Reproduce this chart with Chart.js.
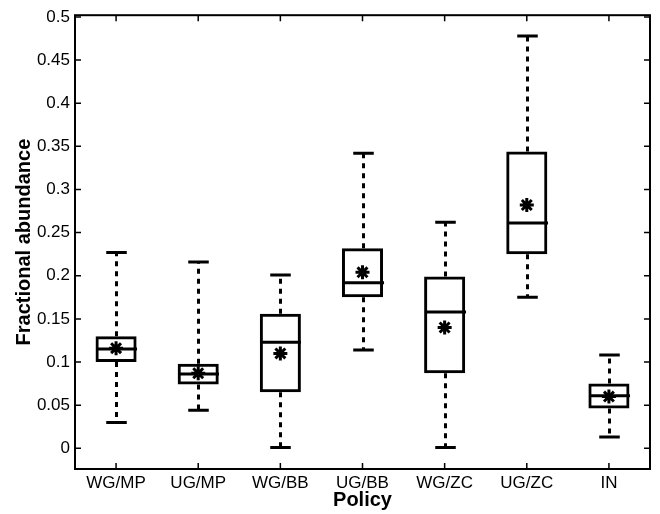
<!DOCTYPE html>
<html>
<head>
<meta charset="utf-8">
<script src="https://cdn.jsdelivr.net/npm/chart.js@4.4.1/dist/chart.umd.min.js"></script>
<style>
  html, body { margin: 0; padding: 0; background: #fff; }
  #wrap { width: 660px; height: 514px; }
</style>
</head>
<body>
<div id="wrap"><canvas id="chart"></canvas></div>
<script>
// Box plot of fractional abundance per policy
const policies = ['WG/MP', 'UG/MP', 'WG/BB', 'UG/BB', 'WG/ZC', 'UG/ZC', 'IN'];
const whiskerLow = [0.030, 0.044, 0.001, 0.114, 0.001, 0.175, 0.013];
const quartile1 = [0.100, 0.074, 0.065, 0.175, 0.087, 0.225, 0.046];
const medians = [0.115, 0.086, 0.123, 0.192, 0.158, 0.261, 0.061];
const quartile3 = [0.130, 0.098, 0.156, 0.232, 0.199, 0.344, 0.075];
const whiskerHigh = [0.227, 0.216, 0.201, 0.342, 0.262, 0.478, 0.108];
const means = [0.116, 0.087, 0.110, 0.204, 0.140, 0.282, 0.060];
const yTicks = [0, 0.05, 0.1, 0.15, 0.2, 0.25, 0.3, 0.35, 0.4, 0.45, 0.5];

const FONT = '"Liberation Sans", Arial, Helvetica, sans-serif';

// whiskers, caps, medians, plus the boxed axes with inward ticks
const boxExtras = {
  id: 'boxExtras',
  afterDatasetsDraw(chart) {
    const { ctx, chartArea: area, scales: { x, y } } = chart;
    const step = x.getPixelForValue(1) - x.getPixelForValue(0);
    const capHalf = step * 0.125;
    const boxHalf = step * 0.25;

    ctx.save();
    ctx.strokeStyle = '#000';
    ctx.lineCap = 'butt';

    policies.forEach((p, i) => {
      const cx = Math.round(x.getPixelForValue(i)) + 0.5;

      // dotted whiskers
      ctx.lineWidth = 3;
      ctx.setLineDash([5, 5]);
      ctx.beginPath();
      ctx.moveTo(cx, y.getPixelForValue(quartile3[i]));
      ctx.lineTo(cx, y.getPixelForValue(whiskerHigh[i]));
      ctx.moveTo(cx, y.getPixelForValue(quartile1[i]));
      ctx.lineTo(cx, y.getPixelForValue(whiskerLow[i]));
      ctx.stroke();
      ctx.setLineDash([]);

      // caps
      ctx.beginPath();
      [whiskerHigh[i], whiskerLow[i]].forEach(v => {
        const py = y.getPixelForValue(v);
        ctx.moveTo(cx - capHalf, py);
        ctx.lineTo(cx + capHalf, py);
      });
      ctx.stroke();

      // median
      const my = y.getPixelForValue(medians[i]);
      ctx.beginPath();
      ctx.moveTo(cx - boxHalf, my);
      ctx.lineTo(cx + boxHalf, my);
      ctx.stroke();
    });

    // axes box
    ctx.lineWidth = 2;
    ctx.strokeRect(area.left, area.top, area.right - area.left, area.bottom - area.top);

    // inward ticks
    const tl = 6;
    ctx.lineWidth = 1.5;
    ctx.beginPath();
    y.ticks.forEach(t => {
      const py = y.getPixelForValue(t.value);
      ctx.moveTo(area.left, py);
      ctx.lineTo(area.left + tl, py);
      ctx.moveTo(area.right, py);
      ctx.lineTo(area.right - tl, py);
    });
    policies.forEach((p, i) => {
      const px = x.getPixelForValue(i);
      ctx.moveTo(px, area.bottom);
      ctx.lineTo(px, area.bottom - tl);
      ctx.moveTo(px, area.top);
      ctx.lineTo(px, area.top + tl);
    });
    ctx.stroke();
    ctx.restore();
  }
};

new Chart(document.getElementById('chart'), {
  type: 'bar',
  data: {
    labels: policies,
    datasets: [
      {
        label: 'IQR',
        data: quartile1.map((q, i) => [q, quartile3[i]]),
        backgroundColor: 'rgba(255, 255, 255, 0)',
        borderColor: '#000',
        borderWidth: 3,
        borderSkipped: false,
        barPercentage: 0.5,
        categoryPercentage: 1
      },
      {
        label: 'Mean',
        type: 'line',
        data: means,
        showLine: false,
        pointStyle: 'star',
        pointRadius: 7,
        pointBorderWidth: 3,
        pointBorderColor: '#000',
        pointBackgroundColor: '#000'
      }
    ]
  },
  options: {
    responsive: true,
    maintainAspectRatio: false,
    animation: false,
    layout: {
      padding: { left: 0, right: 7, top: 11, bottom: 0 }
    },
    plugins: {
      legend: { display: false },
      tooltip: { enabled: false }
    },
    scales: {
      x: {
        type: 'category',
        offset: true,
        grid: { display: false, drawTicks: false, tickLength: 0 },
        border: { display: false },
        ticks: {
          color: '#000',
          padding: 4,
          font: { family: FONT, size: 17 }
        },
        title: {
          display: true,
          text: 'Policy',
          color: '#000',
          padding: { top: 0, bottom: 2 },
          font: { family: FONT, size: 20, weight: 'bold' }
        },
        afterFit: (scale) => { scale.height = 45; }
      },
      y: {
        min: -0.024,
        max: 0.502,
        grid: { display: false, drawTicks: false, tickLength: 0 },
        border: { display: false },
        afterBuildTicks: (scale) => {
          scale.ticks = yTicks.map(v => ({ value: v }));
        },
        ticks: {
          color: '#000',
          padding: 5,
          font: { family: FONT, size: 17 },
          callback: (value) => String(+value.toFixed(2))
        },
        title: {
          display: true,
          text: 'Fractional abundance',
          color: '#000',
          padding: { top: 12, bottom: 0 },
          font: { family: FONT, size: 20, weight: 'bold' }
        },
        afterFit: (scale) => { scale.width = 75; }
      }
    }
  },
  plugins: [boxExtras]
});
</script>
</body>
</html>
